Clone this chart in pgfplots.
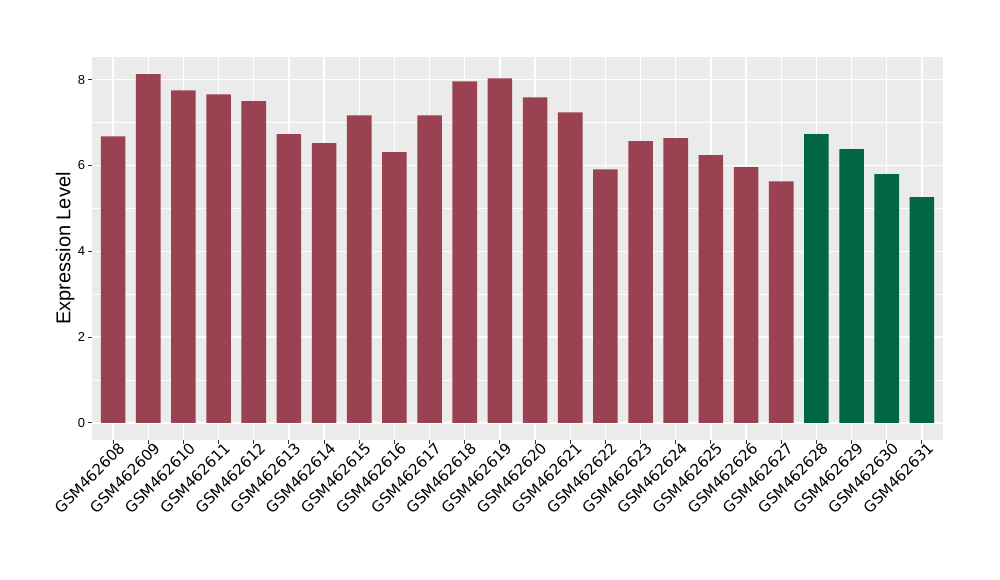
\documentclass[border=0pt]{standalone}
\usepackage{pgfplots}
\pgfplotsset{compat=1.18}
\usepackage{fontspec}
\setmainfont{Liberation Sans}
\newfontfamily\labelfont{DejaVu Sans}
\definecolor{barred}{RGB}{154,66,82}
\definecolor{bargreen}{RGB}{0,102,68}
\definecolor{panelbg}{RGB}{235,235,235}
\definecolor{tickgray}{RGB}{51,51,51}

\begin{document}
\begin{tikzpicture}
% page = 1000 x 580 px, 1 px = 0.75pt, panel lower left at (0,0)
\useasboundingbox ({-92*0.75pt},{-140*0.75pt}) rectangle ({908*0.75pt},{440*0.75pt});
\begin{axis}[
    at={(0,0)}, anchor=south west,
    scale only axis,
    width=638.25pt, height=287.25pt,
    xmin=-0.6, xmax=23.6,
    ymin=-0.4, ymax=8.53,
    axis background/.style={fill=panelbg},
    axis line style={draw=none},
    ybar, bar width=0.7, bar shift=0pt,
    xtick={0,...,23},
    xticklabels={GSM462608,GSM462609,GSM462610,GSM462611,GSM462612,GSM462613,
        GSM462614,GSM462615,GSM462616,GSM462617,GSM462618,GSM462619,GSM462620,
        GSM462621,GSM462622,GSM462623,GSM462624,GSM462625,GSM462626,GSM462627,
        GSM462628,GSM462629,GSM462630,GSM462631},
    xticklabel style={rotate=45, anchor=north east, inner sep=0pt,
        xshift=4pt, yshift=-1pt,
        font=\labelfont\fontsize{11.25}{12}\selectfont},
    ytick={0,2,4,6,8},
    minor ytick={1,3,5,7},
    yticklabel style={font=\fontsize{9.75}{11}\selectfont, inner sep=2pt},
    /pgf/number format/assume math mode=true,
    grid=both,
    major grid style={white, line width=1.1pt},
    minor grid style={white, line width=0.55pt},
    tick pos=left, tick align=outside,
    major tick style={tickgray, line width=0.8pt},
    major tick length=3pt, minor tick length=0pt,
    ylabel={Expression Level},
    ylabel shift=-3pt,
    ylabel style={font=\fontsize{15}{18}\selectfont},
]
\addplot[fill=barred, draw=none] coordinates {
    (0,6.68) (1,8.13) (2,7.75) (3,7.66) (4,7.50) (5,6.73) (6,6.52)
    (7,7.17) (8,6.31) (9,7.17) (10,7.96) (11,8.03) (12,7.59) (13,7.24)
    (14,5.91) (15,6.57) (16,6.64) (17,6.24) (18,5.96) (19,5.63)
};
\addplot[fill=bargreen, draw=none] coordinates {
    (20,6.73) (21,6.38) (22,5.80) (23,5.26)
};
\end{axis}
\end{tikzpicture}
\end{document}
